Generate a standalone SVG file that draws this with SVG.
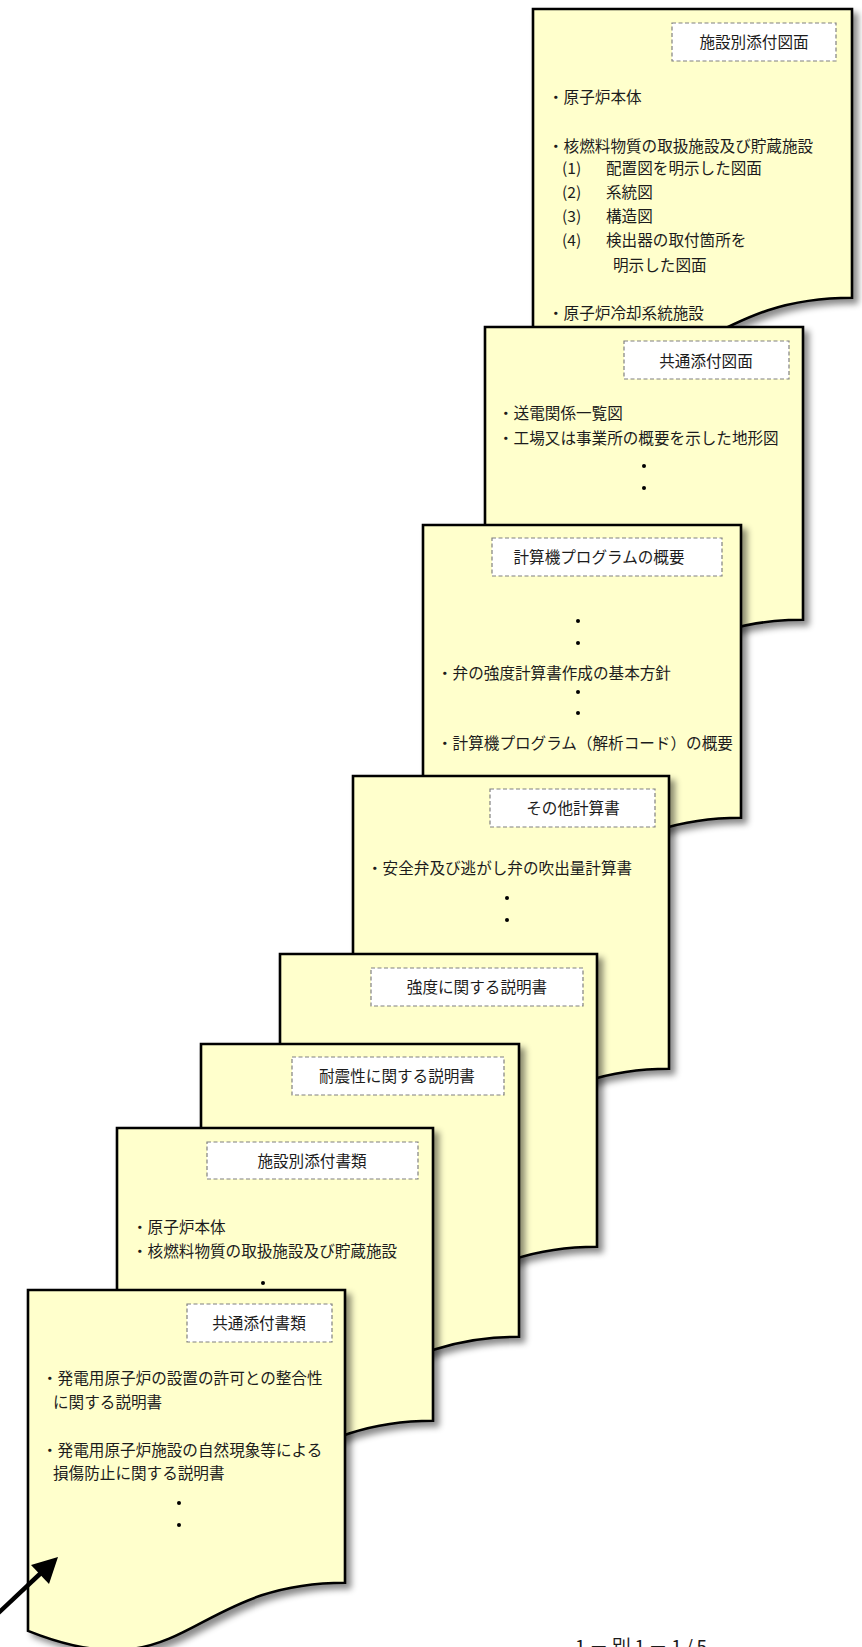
<svg xmlns="http://www.w3.org/2000/svg" width="862" height="1647" viewBox="0 0 862 1647">
<style>
.page{fill:#FFFFCC;stroke:#000;stroke-width:2.6;stroke-linejoin:miter;filter:url(#sh)}
.lbl{fill:#fff;stroke:#808080;stroke-width:1.2;stroke-dasharray:4 2.5}
text{font-family:"Noto Sans CJK JP","Noto Sans CJK SC",sans-serif;font-size:15.6px;fill:#1c1c1c}
.c{text-anchor:middle}
.dot{fill:#000}
</style>
<defs>
<filter id="sh" x="-10%" y="-10%" width="125%" height="125%">
<feDropShadow dx="5" dy="5" stdDeviation="3" flood-color="#000" flood-opacity="0.45"/>
</filter>
</defs>

<g id="page-shisetsu-zumen">
<path class="page" d="M533,9 H852 V297.7 C692.5,297.7 692.5,407.7 533,345.2 Z"/>
<rect class="lbl" x="672" y="23" width="164" height="38"/>
<text class="c" x="754" y="48">施設別添付図面</text>
<text x="548" y="103">・原子炉本体</text>
<text x="548" y="152">・核燃料物質の取扱施設及び貯蔵施設</text>
<text x="562" y="174">(1)</text><text x="606" y="174">配置図を明示した図面</text>
<text x="562" y="198">(2)</text><text x="606" y="198">系統図</text>
<text x="562" y="222">(3)</text><text x="606" y="222">構造図</text>
<text x="562" y="246">(4)</text><text x="606" y="246">検出器の取付箇所を</text>
<text x="613" y="271">明示した図面</text>
<text x="548" y="319">・原子炉冷却系統施設</text>
</g>

<g id="page-kyotsu-zumen">
<path class="page" d="M485,327 H803 V619.7 C644,619.7 644,731.2 485,667.9 Z"/>
<rect class="lbl" x="624" y="341" width="165" height="38"/>
<text class="c" x="706" y="367">共通添付図面</text>
<text x="498" y="419">・送電関係一覧図</text>
<text x="498" y="444">・工場又は事業所の概要を示した地形図</text>
<circle class="dot" cx="644" cy="466" r="2"/>
<circle class="dot" cx="644" cy="488" r="2"/>
</g>

<g id="page-program">
<path class="page" d="M423,525 H741 V817.7 C582,817.7 582,929.2 423,865.9 Z"/>
<rect class="lbl" x="492" y="538" width="230" height="38"/>
<text class="c" x="599" y="563">計算機プログラムの概要</text>
<circle class="dot" cx="578" cy="621" r="2"/>
<circle class="dot" cx="578" cy="643" r="2"/>
<text x="437" y="679">・弁の強度計算書作成の基本方針</text>
<circle class="dot" cx="578" cy="692" r="2"/>
<circle class="dot" cx="578" cy="713" r="2"/>
<text x="437" y="749">・計算機プログラム（解析コード）の概要</text>
</g>

<g id="page-sonota">
<path class="page" d="M353,776 H669 V1068.7 C511,1068.7 511,1180.2 353,1116.9 Z"/>
<rect class="lbl" x="490" y="789" width="165" height="38"/>
<text class="c" x="573" y="814">その他計算書</text>
<text x="367" y="874">・安全弁及び逃がし弁の吹出量計算書</text>
<circle class="dot" cx="507" cy="898" r="2"/>
<circle class="dot" cx="507" cy="920" r="2"/>
</g>

<g id="page-kyodo">
<path class="page" d="M280,954 H597 V1246.7 C438.5,1246.7 438.5,1358.2 280,1294.9 Z"/>
<rect class="lbl" x="371" y="968" width="212" height="38"/>
<text class="c" x="477" y="993">強度に関する説明書</text>
</g>

<g id="page-taishin">
<path class="page" d="M201,1044 H519 V1336.7 C360,1336.7 360,1448.2 201,1384.9 Z"/>
<rect class="lbl" x="292" y="1057" width="212" height="38"/>
<text class="c" x="397" y="1082">耐震性に関する説明書</text>
</g>

<g id="page-shisetsu-shorui">
<path class="page" d="M117,1128 H433 V1420.7 C275,1420.7 275,1532.2 117,1468.9 Z"/>
<rect class="lbl" x="207" y="1142" width="211" height="37"/>
<text class="c" x="312" y="1167">施設別添付書類</text>
<text x="132" y="1233">・原子炉本体</text>
<text x="132" y="1257">・核燃料物質の取扱施設及び貯蔵施設</text>
<circle class="dot" cx="263" cy="1283" r="2"/>
</g>

<g id="page-kyotsu-shorui">
<path class="page" d="M28,1290 H345 V1582.7 C186.5,1582.7 186.5,1694.2 28,1630.9 Z"/>
<rect class="lbl" x="187" y="1304" width="145" height="38"/>
<text class="c" x="259" y="1329">共通添付書類</text>
<text x="42" y="1384">・発電用原子炉の設置の許可との整合性</text>
<text x="53" y="1408">に関する説明書</text>
<text x="42" y="1456">・発電用原子炉施設の自然現象等による</text>
<text x="53" y="1479">損傷防止に関する説明書</text>
<circle class="dot" cx="179" cy="1503" r="2"/>
<circle class="dot" cx="179" cy="1525" r="2"/>
</g>

<g id="connectors">
<line x1="-8" y1="1619" x2="42" y2="1572" stroke="#000" stroke-width="4.5"/>
<polygon points="58,1557 31,1565 49,1584" fill="#000"/>
</g>

<text x="575" y="1654" font-size="19" style="font-size:19px" textLength="132" lengthAdjust="spacing">1－別1－1/5</text>
</svg>
